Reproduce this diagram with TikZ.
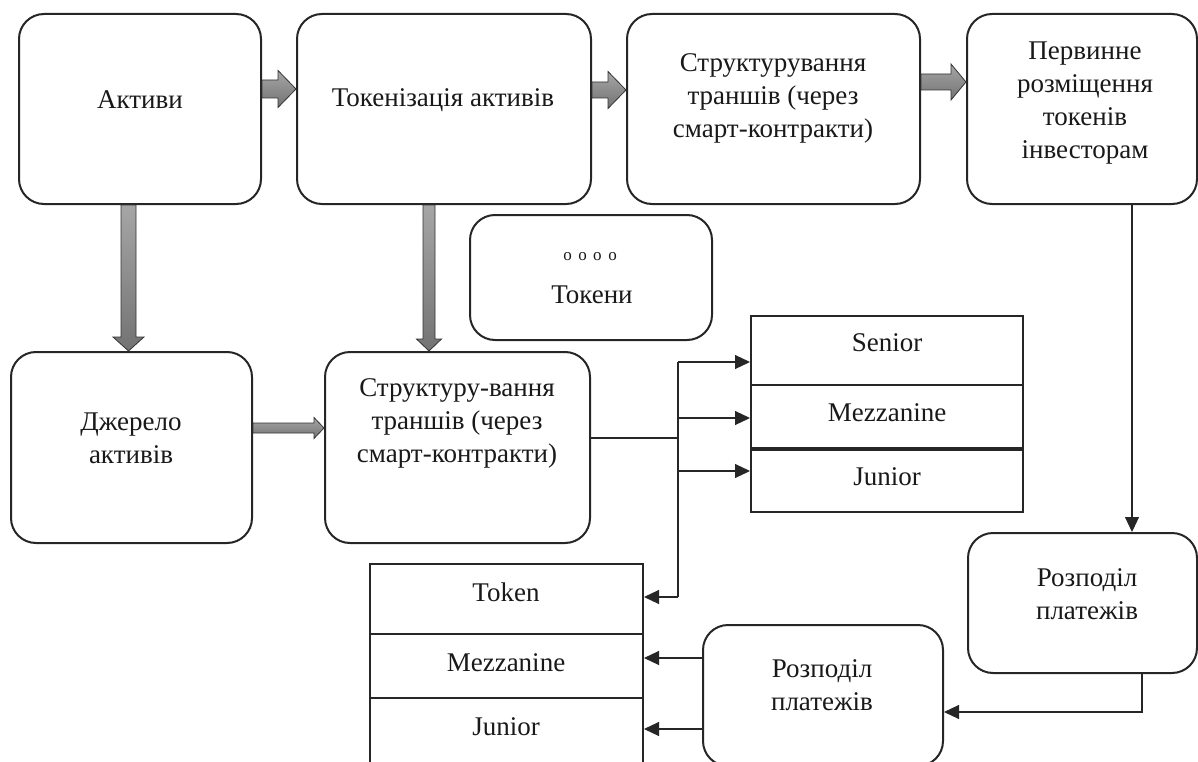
\documentclass[tikz,border=0pt]{standalone}
\usepackage{fontspec}
\setmainfont{Liberation Serif}
\usetikzlibrary{arrows.meta,calc}

\tikzset{
  box/.style={draw=black!85, line width=2pt, rounded corners=25pt, fill=white, inner sep=0pt},
  cell/.style={draw=black!85, line width=2pt, inner sep=0pt},
  txt/.style={font=\fontsize{27}{33}\selectfont, align=center, inner sep=0pt, text=black!90},
  fatarrow/.style={draw=black!80, line width=0.8pt, top color=gray!70, bottom color=gray!90!black, line join=miter},
  conn/.style={draw=black!85, line width=1.1pt},
  arr/.style={conn, -{Triangle[length=15pt,width=14pt]}},
}

% horizontal fat arrow: from #1.east to #2.west, centre y #3 (px), shaft half #4, head half #5, head length #6
\newcommand\fatH[6]{%
  \path[fatarrow] let \p1=(#1.east), \p2=(#2.west) in
   (\x1,{-(#3-#4)*1pt}) -- ({\x2-#6pt},{-(#3-#4)*1pt}) -- ({\x2-#6pt},{-(#3-#5)*1pt})
   -- (\x2,{-#3*1pt}) -- ({\x2-#6pt},{-(#3+#5)*1pt}) -- ({\x2-#6pt},{-(#3+#4)*1pt})
   -- (\x1,{-(#3+#4)*1pt}) -- cycle;}
% vertical fat arrow: from #1.south to #2.north, centre x #3 (px)
\newcommand\fatV[6]{%
  \path[fatarrow] let \p1=(#1.south), \p2=(#2.north) in
   ({(#3-#4)*1pt},\y1) -- ({(#3-#4)*1pt},{\y2+#6pt}) -- ({(#3-#5)*1pt},{\y2+#6pt})
   -- ({#3*1pt},\y2) -- ({(#3+#5)*1pt},{\y2+#6pt}) -- ({(#3+#4)*1pt},{\y2+#6pt})
   -- ({(#3+#4)*1pt},\y1) -- cycle;}

\begin{document}
\begin{tikzpicture}[x=1pt,y=-1pt]
\useasboundingbox (0,0) rectangle (1198,762);

% rounded boxes
\node[box, minimum width=242pt, minimum height=190pt] (akt) at (140,109) {};
\node[box, minimum width=294pt, minimum height=190pt] (tok) at (444,109) {};
\node[box, minimum width=293pt, minimum height=190pt] (str) at (773.5,109) {};
\node[box, minimum width=230pt, minimum height=190pt] (per) at (1082,109) {};
\node[box, minimum width=242pt, minimum height=125pt] (tkn) at (591,277.5) {};
\node[box, minimum width=241pt, minimum height=191pt] (dje) at (131.5,447.5) {};
\node[box, minimum width=265pt, minimum height=191pt] (st2) at (457.5,447.5) {};
\node[box, minimum width=229pt, minimum height=140pt] (rz1) at (1082.5,603) {};
\node[box, minimum width=240pt, minimum height=141pt] (rz2) at (823,695.5) {};

% tranche table (top)
\node[cell, minimum width=272pt, minimum height=69pt] (sen) at (887,350.5) {};
\node[cell, minimum width=272pt, minimum height=63pt] (smz) at (887,416.5) {};
\node[cell, minimum width=272pt, minimum height=64pt] (sjn) at (887,480) {};
\draw[black!85, line width=4pt] (smz.south west) -- (smz.south east);

% token table (bottom)
\node[cell, minimum width=273pt, minimum height=70pt] (ttk) at (506.5,599) {};
\node[cell, minimum width=273pt, minimum height=64pt] (tmz) at (506.5,666) {};
\node[cell, minimum width=273pt, minimum height=68pt] (tjn) at (506.5,732) {};

% texts
\node[txt] (l1) at (140,100) {Активи};
\node[txt] (l2) at (443,100) {Токенізація активів};
\node[txt] (l3) at (773,98) {Структурування\\траншів (через\\смарт-контракти)};
\node[txt] (l4) at (1085,103) {Первинне\\розміщення\\токенів\\інвесторам};
\node[txt, font=\fontsize{17}{17}\selectfont] (l5) at (590,257) {o\hspace{6.5pt}o\hspace{6.5pt}o\hspace{6.5pt}o};
\node[txt] (l6) at (592,295) {Токени};
\node[txt] (l7) at (131,438) {Джерело\\активів};
\node[txt] (l8) at (457,423) {Структуру-вання\\траншів (через\\смарт-контракти)};
\node[txt] (l9) at (887,343) {Senior};
\node[txt] (l10) at (887,413) {Mezzanine};
\node[txt] (l11) at (887,477) {Junior};
\node[txt] (l12) at (1087,594) {Розподіл\\платежів};
\node[txt] (l13) at (822,685) {Розподіл\\платежів};
\node[txt] (l14) at (506,592) {Token};
\node[txt] (l15) at (506,663) {Mezzanine};
\node[txt] (l16) at (506,727) {Junior};

% fat arrows
\fatH{akt}{tok}{89}{9}{18.5}{18}
\fatH{tok}{str}{90}{8}{18.5}{18}
\fatH{str}{per}{82}{8}{18}{15}
\fatH{dje}{st2}{428}{5}{10.5}{10}
\fatV{akt}{dje}{128.5}{7.5}{15.5}{14}
\fatV{tok}{st2}{429}{6}{12.5}{12}

% thin connectors
\coordinate (jM) at (678,438);
\coordinate (jT) at (678,362);
\coordinate (j2) at (678,418);
\coordinate (j3) at (678,471);
\coordinate (jB) at (678,597);
\draw[conn] (st2.east |- jM) -- (jM);
\draw[conn] (jT) -- (jB);
\draw[arr] (jT) -- (jT -| sen.west);
\draw[arr] (j2) -- (j2 -| smz.west);
\draw[arr] (j3) -- (j3 -| sjn.west);
\draw[arr] (jB) -- (jB -| ttk.east);

\coordinate (pv) at (1132,300);
\draw[arr] (pv |- per.south) -- (pv |- rz1.north);
\coordinate (rr) at (1142,712);
\draw[arr] (rr |- rz1.south) -- (rr) -- (rr -| rz2.east);
\coordinate (m1) at (680,658);
\coordinate (m2) at (680,729);
\draw[arr] (rz2.west |- m1) -- (m1 -| tmz.east);
\draw[arr] (rz2.west |- m2) -- (m2 -| tjn.east);
\end{tikzpicture}
\end{document}
